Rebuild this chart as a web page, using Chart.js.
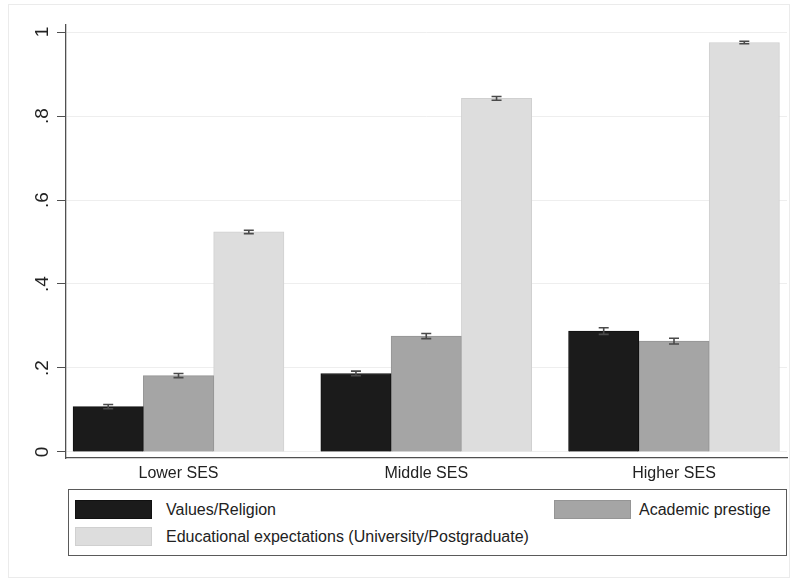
<!DOCTYPE html>
<html>
<head>
<meta charset="utf-8">
<script src="https://cdn.jsdelivr.net/npm/chart.js@4/dist/chart.umd.min.js"></script>
<style>
  html, body { margin: 0; padding: 0; background: #ffffff; }
  #wrap { position: relative; width: 795px; height: 582px; }
  #c { position: absolute; left: 0; top: 0; }
  #legend {
    position: absolute; left: 68px; top: 489px; width: 717px; height: 65px;
    border: 1px solid #5a5a5a; background: #fff;
    font-family: "Liberation Sans", Arial, sans-serif; font-size: 16px; color: #222;
  }
  .item { position: absolute; height: 19px; line-height: 19px; white-space: nowrap; }
  .key { position: absolute; top: 0; width: 77px; height: 19px; box-sizing: border-box; border: 1px solid; }
  .lbl { position: absolute; top: 0; }
</style>
</head>
<body>
<div id="wrap">
  <canvas id="c" width="795" height="582"></canvas>
  <div id="legend"></div>
</div>
<script>
// ---- data ----
const categories = ['Lower SES', 'Middle SES', 'Higher SES'];
const seriesNames = ['Values/Religion', 'Academic prestige', 'Educational expectations (University/Postgraduate)'];
const valuesReligion = [0.108, 0.187, 0.288];
const academicPrestige = [0.182, 0.276, 0.264];
const educationalExpectations = [0.524, 0.842, 0.975];
const ciReligion = [0.005, 0.0055, 0.008];
const ciPrestige = [0.005, 0.006, 0.007];
const ciExpectations = [0.004, 0.0045, 0.003];
const yTickValues = [0, 0.2, 0.4, 0.6, 0.8, 1];

const fills = ['#1b1b1b', '#a5a5a5', '#dddddd'];
const borders = ['#111111', '#959595', '#d0d0d0'];
const seriesValues = [valuesReligion, academicPrestige, educationalExpectations];
const seriesCI = [ciReligion, ciPrestige, ciExpectations];

Chart.defaults.font.family = '"Liberation Sans", Arial, sans-serif';
Chart.defaults.color = '#222';

const datasets = seriesValues.map((vals, s) => ({
  label: seriesNames[s],
  data: vals.map((v, i) => ({ x: i, y: v })),
  backgroundColor: fills[s],
  borderColor: borders[s],
  borderWidth: 1,
  barThickness: 70.3,
  ci: seriesCI[s]
}));

const frame = {
  id: 'frame',
  beforeDraw(chart) {
    const ctx = chart.ctx;
    ctx.save();
    ctx.fillStyle = '#ffffff';
    ctx.fillRect(0, 0, chart.width, chart.height);
    ctx.strokeStyle = '#ebebeb';
    ctx.lineWidth = 1;
    ctx.strokeRect(8.5, 4.5, 781, 573);
    ctx.restore();
  }
};

const errorBars = {
  id: 'errorBars',
  afterDatasetsDraw(chart) {
    const ctx = chart.ctx;
    const y = chart.scales.y;
    ctx.save();
    ctx.strokeStyle = '#4a4a4a';
    ctx.lineWidth = 1.6;
    chart.data.datasets.forEach((ds, di) => {
      const meta = chart.getDatasetMeta(di);
      meta.data.forEach((bar, i) => {
        const v = ds.data[i].y, e = ds.ci[i];
        const yTop = y.getPixelForValue(v + e);
        const yBot = y.getPixelForValue(v - e);
        const x = bar.x, hw = 5;
        ctx.beginPath();
        ctx.moveTo(x, yTop); ctx.lineTo(x, yBot);
        ctx.moveTo(x - hw, yTop); ctx.lineTo(x + hw, yTop);
        ctx.moveTo(x - hw, yBot); ctx.lineTo(x + hw, yBot);
        ctx.stroke();
      });
    });
    ctx.restore();
  }
};

new Chart(document.getElementById('c'), {
  type: 'bar',
  data: { datasets },
  options: {
    responsive: false,
    animation: false,
    layout: { padding: { left: 0, right: 8, top: 25, bottom: 84 } },
    plugins: { legend: { display: false }, tooltip: { enabled: false } },
    scales: {
      x: {
        type: 'linear',
        offset: false,
        min: -0.4541,
        max: 2.4561,
        afterBuildTicks: (s) => { s.ticks = categories.map((c, i) => ({ value: i })); },
        afterFit: (s) => { s.height = 40; },
        grid: { display: false, drawTicks: false, offset: false },
        border: { display: true, color: '#505050', width: 1.3 },
        ticks: {
          padding: 6,
          font: { size: 16 },
          color: '#222',
          maxRotation: 0,
          minRotation: 0,
          autoSkip: false,
          callback: (v) => categories[v]
        }
      },
      y: {
        min: -0.01429,
        max: 1.01667,
        afterBuildTicks: (s) => { s.ticks = yTickValues.map(v => ({ value: v })); },
        afterFit: (s) => { s.width = 66; },
        grid: { color: '#eeeeee', tickColor: '#505050', tickLength: 9, lineWidth: 1 },
        border: { display: true, color: '#505050', width: 1.3 },
        ticks: {
          font: { size: 19 },
          color: '#222',
          padding: 6,
          minRotation: 90,
          maxRotation: 90,
          crossAlign: 'center',
          callback: (v) => (v === 0 ? '0' : v === 1 ? '1' : v.toFixed(1).replace(/^0/, ''))
        }
      }
    }
  },
  plugins: [frame, errorBars]
});

// HTML legend built from series names
const legendPos = [
  { left: 6, top: 10, text: 97 },
  { left: 485, top: 10, text: 570 },
  { left: 6, top: 37, text: 97 }
];
const legend = document.getElementById('legend');
seriesNames.forEach((name, s) => {
  const p = legendPos[s];
  const item = document.createElement('div');
  item.className = 'item';
  item.style.left = '0px';
  item.style.top = p.top + 'px';
  const key = document.createElement('div');
  key.className = 'key';
  key.style.left = p.left + 'px';
  key.style.background = fills[s];
  key.style.borderColor = borders[s];
  const lbl = document.createElement('div');
  lbl.className = 'lbl';
  lbl.style.left = p.text + 'px';
  lbl.textContent = name;
  item.appendChild(key);
  item.appendChild(lbl);
  legend.appendChild(item);
});
</script>
</body>
</html>
